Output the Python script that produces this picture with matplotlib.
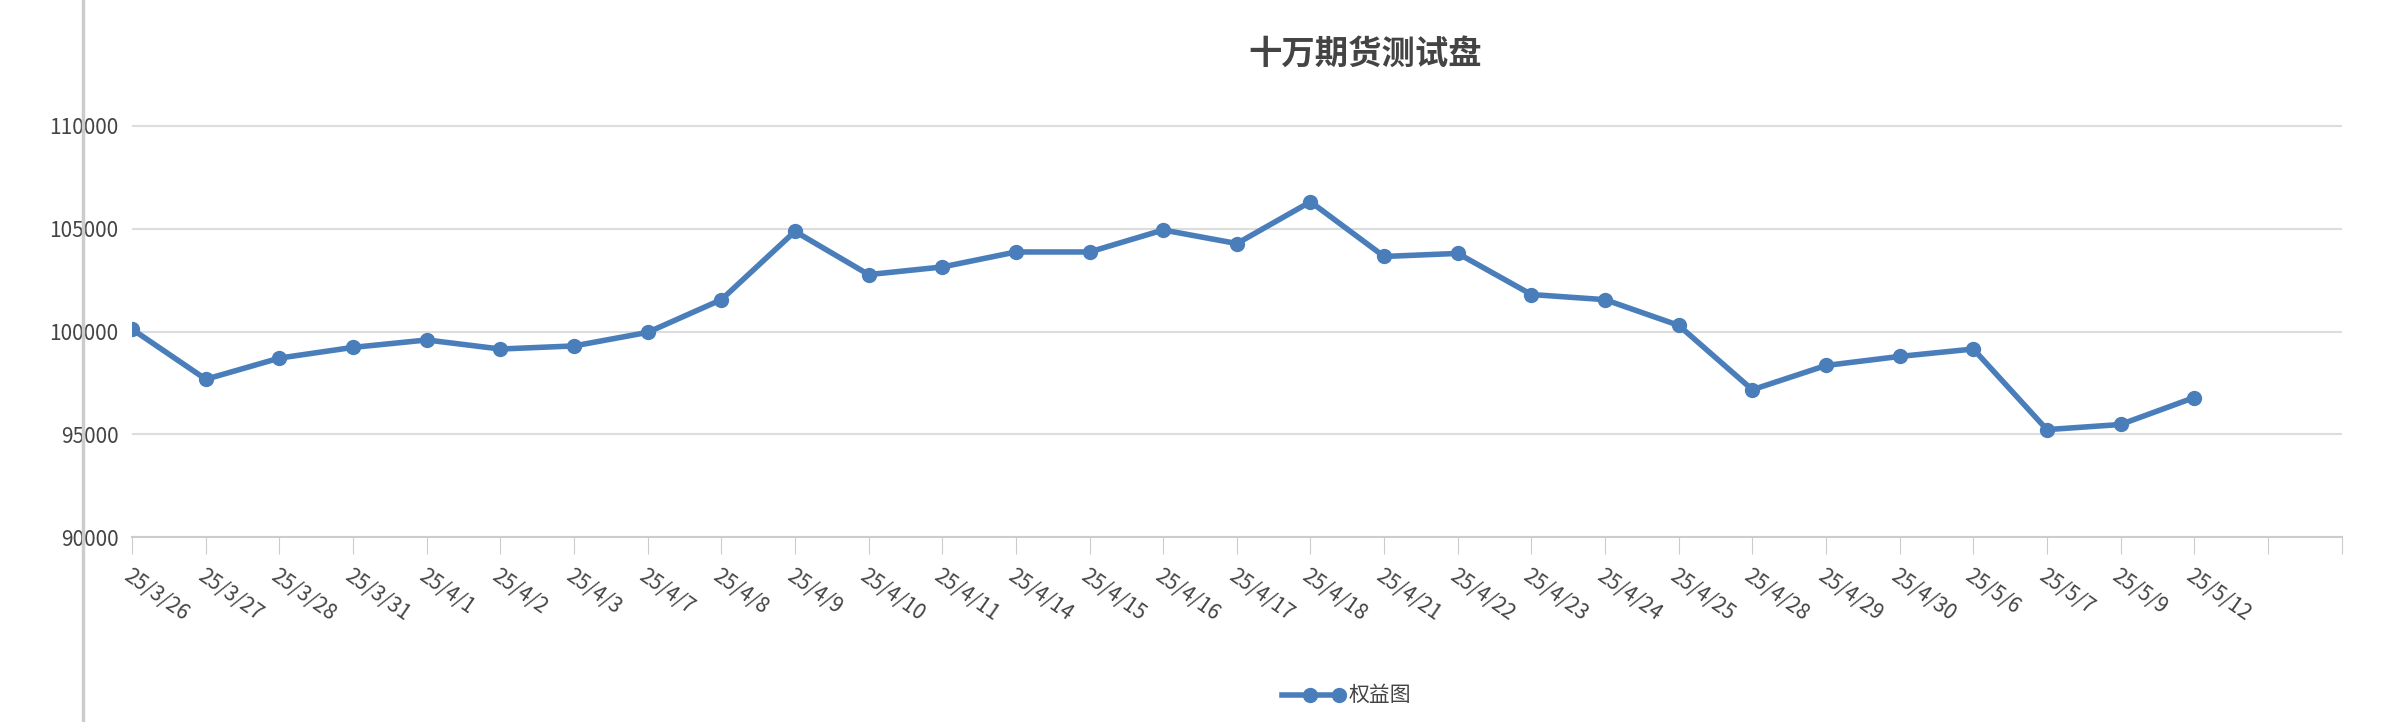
import matplotlib
matplotlib.use("Agg")
import matplotlib.pyplot as plt
from matplotlib.lines import Line2D

plt.rcParams['font.family'] = ['Noto Sans CJK SC', 'DejaVu Sans']

dates = ["25/3/26","25/3/27","25/3/28","25/3/31","25/4/1","25/4/2","25/4/3","25/4/7","25/4/8","25/4/9",
         "25/4/10","25/4/11","25/4/14","25/4/15","25/4/16","25/4/17","25/4/18","25/4/21","25/4/22","25/4/23",
         "25/4/24","25/4/25","25/4/28","25/4/29","25/4/30","25/5/6","25/5/7","25/5/9","25/5/12"]
equity = [100110, 97680, 98710, 99230, 99590, 99150, 99300, 99960, 101550, 104870,
          102770, 103140, 103870, 103870, 104940, 104280, 106310, 103650, 103800, 101800,
          101550, 100300, 97170, 98350, 98790, 99150, 95230, 95480, 96790]

color = "#4a7ebb"
fig = plt.figure(figsize=(23.82, 7.22), dpi=100)
ax = fig.add_axes([0.0555, 0.256, 0.9275, 0.712])
x = list(range(len(dates)))
ax.plot(x, equity, color=color, lw=4, marker='o', ms=10, zorder=3)
ax.set_xlim(0, 30)
ax.set_ylim(90000, 115000)
ax.set_yticks([90000, 95000, 100000, 105000, 110000])
ax.set_xticks(range(31))
ax.set_xticklabels(dates + ["", ""], rotation=-35, ha='left', va='top', rotation_mode='anchor')
ax.tick_params(axis='x', length=12, color='#cccccc', labelsize=15, labelcolor='#444444', pad=8)
ax.tick_params(axis='y', length=0, labelsize=15, labelcolor='#444444', pad=10)
ax.grid(axis='y', color='#dddddd', lw=1.5)
for s in ['top', 'right', 'left']:
    ax.spines[s].set_visible(False)
ax.spines['bottom'].set_color('#cccccc')
ax.spines['bottom'].set_linewidth(1.5)
fig.add_artist(Line2D([0.035, 0.035], [0, 1], color='#cccccc', lw=2.5, transform=fig.transFigure))
fig.text(0.573, 0.925, "十万期货测试盘", ha='center', va='center', fontsize=24, fontweight='bold', color='#444444')
fig.add_artist(Line2D([0.538, 0.562], [0.037, 0.037], color=color, lw=4, marker='o', ms=10,
                      markevery=[1], transform=fig.transFigure))
fig.add_artist(Line2D([0.55], [0.037], color=color, marker='o', ms=10, transform=fig.transFigure))
fig.text(0.566, 0.037, "权益图", ha='left', va='center', fontsize=15, color='#444444')
fig.savefig("out.png", dpi=100)
